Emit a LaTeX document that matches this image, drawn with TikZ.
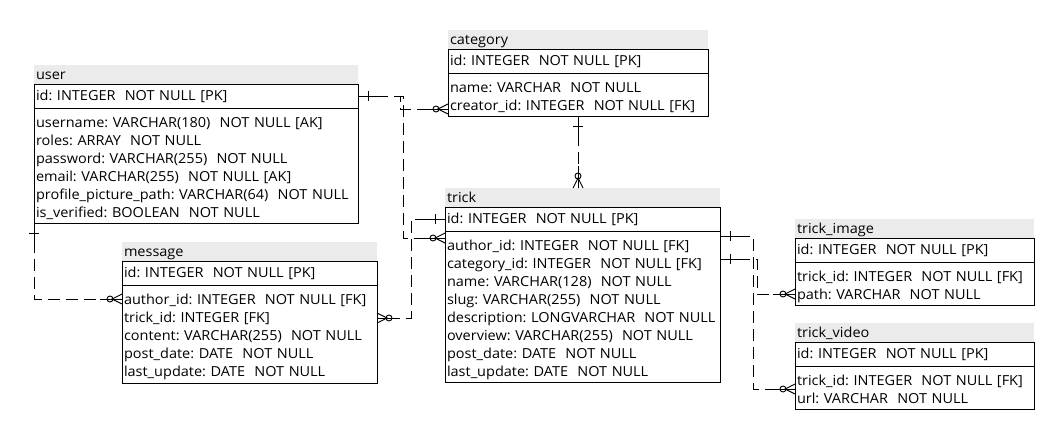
\documentclass[tikz,border=0pt]{standalone}
\usepackage{fontspec}
\setmainfont{Open Sans}[WordSpace=0.65, FakeStretch=1.05]
\frenchspacing
\usetikzlibrary{positioning, calc}

\begin{document}
\begin{tikzpicture}[x=1pt, y=-1pt, line width=0.9pt,
  font=\fontsize{13.8}{18}\selectfont,
  titolo/.style={anchor=north west, fill=black!8, inner xsep=2pt, inner ysep=0pt, outer sep=0pt, minimum height=19pt, align=left,
    execute at begin node={\rule{0pt}{14pt}}, execute at end node={\rule[-5pt]{0pt}{5pt}}},
  chiave/.style={draw, anchor=north west, inner xsep=2pt, inner ysep=0pt, outer sep=0pt, minimum height=24pt, align=left,
    execute at begin node={\rule{0pt}{12pt}}, execute at end node={\rule[-2pt]{0pt}{2pt}}},
  campi/.style={draw, anchor=north west, inner xsep=2pt, inner ysep=0pt, outer sep=0pt, align=left,
    execute at begin node={\rule{0pt}{18pt}}, execute at end node={\rule[-5pt]{0pt}{5pt}}},
  rel/.style={dash pattern=on 12pt off 6pt},
  uno/.pic={\draw (-22,0) -- (0,0); \draw (-10,-5) -- (-10,5);},
  molti/.pic={\draw (-22,0) -- (0,0); \draw (0,-5) -- (-10,0) -- (0,5); \draw (-12,0) circle (3pt);}
]
\useasboundingbox (0,0) rectangle (1045,431);

% Tabella user
\node[titolo, text width=320pt] (ut) at (34,65) {user};
\node[chiave, text width=320pt] (uk) at (ut.south west) {id: INTEGER\ \ NOT NULL [PK]};
\node[campi, text width=320pt, minimum height=115pt] (ub) at (uk.south west) {username: VARCHAR(180)\ \ NOT NULL [AK]\\ roles: ARRAY\ \ NOT NULL\\ password: VARCHAR(255)\ \ NOT NULL\\ email: VARCHAR(255)\ \ NOT NULL [AK]\\ profile\_picture\_path: VARCHAR(64)\ \ NOT NULL\\ is\_verified: BOOLEAN\ \ NOT NULL};

% Tabella category
\node[titolo, text width=256pt] (ct) at (448,30) {category};
\node[chiave, text width=256pt] (ck) at (ct.south west) {id: INTEGER\ \ NOT NULL [PK]};
\node[campi, text width=256pt, minimum height=43pt] (cb) at (ck.south west) {name: VARCHAR\ \ NOT NULL\\ creator\_id: INTEGER\ \ NOT NULL [FK]};

% Tabella trick
\node[titolo, text width=271pt] (tt) at (445,188) {trick};
\node[chiave, text width=271pt] (tk) at (tt.south west) {id: INTEGER\ \ NOT NULL [PK]};
\node[campi, text width=271pt, minimum height=151pt] (tb) at (tk.south west) {author\_id: INTEGER\ \ NOT NULL [FK]\\ category\_id: INTEGER\ \ NOT NULL [FK]\\ name: VARCHAR(128)\ \ NOT NULL\\ slug: VARCHAR(255)\ \ NOT NULL\\ description: LONGVARCHAR\ \ NOT NULL\\ overview: VARCHAR(255)\ \ NOT NULL\\ post\_date: DATE\ \ NOT NULL\\ last\_update: DATE\ \ NOT NULL};

% Tabella message
\node[titolo, text width=251pt] (mt) at (122,242) {message};
\node[chiave, text width=251pt] (mk) at (mt.south west) {id: INTEGER\ \ NOT NULL [PK]};
\node[campi, text width=251pt, minimum height=98pt] (mb) at (mk.south west) {author\_id: INTEGER\ \ NOT NULL [FK]\\ trick\_id: INTEGER [FK]\\ content: VARCHAR(255)\ \ NOT NULL\\ post\_date: DATE\ \ NOT NULL\\ last\_update: DATE\ \ NOT NULL};

% Tabella trick_image
\node[titolo, text width=235pt] (it) at (795,219) {trick\_image};
\node[chiave, text width=235pt] (ik) at (it.south west) {id: INTEGER\ \ NOT NULL [PK]};
\node[campi, text width=235pt, minimum height=43pt] (ib) at (ik.south west) {trick\_id: INTEGER\ \ NOT NULL [FK]\\ path: VARCHAR\ \ NOT NULL};

% Tabella trick_video
\node[titolo, text width=235pt] (vt) at (795,323) {trick\_video};
\node[chiave, text width=235pt] (vk) at (vt.south west) {id: INTEGER\ \ NOT NULL [PK]};
\node[campi, text width=235pt, minimum height=43pt] (vb) at (vk.south west) {trick\_id: INTEGER\ \ NOT NULL [FK]\\ url: VARCHAR\ \ NOT NULL};

% Punti di aggancio
\coordinate (cfk) at (cb.west |- 0,109);
\coordinate (tak) at (tb.west |- 0,238);
\coordinate (mak) at (mb.west |- 0,299);
\coordinate (mtk) at (mb.east |- 0,318);
\coordinate (tvk) at (tb.east |- 0,236);
\coordinate (tik) at (tb.east |- 0,259);
\coordinate (vtk) at (vb.west |- 0,389);
\coordinate (itk) at (ib.west |- 0,294);

% Relazioni
\draw[rel] (uk.east) -- ++(42,0) |- (cfk);
\draw[rel] (uk.east) -- ++(45,0) |- (tak);
\draw[rel] (cb.south) -- (cb.south |- tt.north);
\draw[rel] (ub.south west) |- (mak);
\draw[rel] (tk.west) -- ++(-34,0) |- (mtk);
\draw[rel] (tvk) -- ++(33,0) |- (vtk);
\draw[rel] (tik) -- ++(37,0) |- (itk);

% Cardinalita
\pic[rotate=180] at (uk.east) {uno};
\pic[rotate=90] at (cb.south) {uno};
\pic[rotate=90] at (ub.south west) {uno};
\pic at (tk.west) {uno};
\pic[rotate=180] at (tvk) {uno};
\pic[rotate=180] at (tik) {uno};
\pic at (cfk) {molti};
\pic at (tak) {molti};
\pic[rotate=-90] at (cb.south |- tt.north) {molti};
\pic at (mak) {molti};
\pic[rotate=180] at (mtk) {molti};
\pic at (vtk) {molti};
\pic at (itk) {molti};

\end{tikzpicture}
\end{document}
